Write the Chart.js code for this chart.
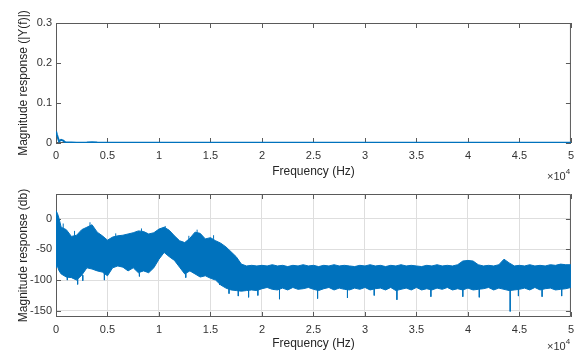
<!DOCTYPE html>
<html>
<head>
<meta charset="utf-8">
<script src="https://cdn.jsdelivr.net/npm/chart.js@4"></script>
<style>
html,body{margin:0;padding:0;background:#fff;}
#wrap{position:relative;width:580px;height:354px;overflow:hidden;}
canvas{position:absolute;left:0;top:0;}
.exp{position:absolute;font-family:'Liberation Sans',Arial,sans-serif;font-size:11px;color:#333;white-space:nowrap;}
.exp sup{font-size:8px;position:relative;top:-1px;}
</style>
</head>
<body>
<div id="wrap">
<canvas id="c1" width="580" height="354"></canvas>
<canvas id="c2" width="580" height="354"></canvas>
<div class="exp" style="left:547px;top:168px;">&times;10<sup>4</sup></div>
<div class="exp" style="left:547px;top:338px;">&times;10<sup>4</sup></div>
</div>
<script>
// ---- Tick values / labels ----
const xTickValues = [0,5000,10000,15000,20000,25000,30000,35000,40000,45000,50000];
const xTickLabels = ['0','0.5','1','1.5','2','2.5','3','3.5','4','4.5','5'];
const magTickValues = [0,0.1,0.2,0.3];
const magTickLabels = ['0','0.1','0.2','0.3'];
const dbTickValues = [-150,-100,-50,0];
const dbTickLabels = ['-150','-100','-50','0'];

// ---- Top plot: |Y(f)| ----
const magFreq = [0,100,200,300,500,700,900,1200,1500,2000,3000,3500,4000,5000,10000,20000,30000,40000,50000];
const magValue = [0.029,0.02,0.012,0.004,0.008,0.006,0.002,0.001,0.001,0.0008,0.001,0.002,0.001,0.0005,0.0005,0.0004,0.0004,0.0004,0.0004];

// ---- Bottom plot: dB envelope ----
const dbFreq = [0,150,300,500,1000,1500,2000,2500,3000,3500,4000,4500,5000,5500,6000,6500,7000,7500,8000,8500,9000,9500,
 10000,10500,11000,11500,12000,12500,13000,13500,14000,14500,15000,15500,16000,16500,17000,17500,18000,18500,19000,19500,
 20000,20500,21000,21500,22000,22500,23000,23500,24000,24500,25000,25500,26000,26500,27000,27500,28000,28500,29000,29500,
 30000,30500,31000,31500,32000,32500,33000,33500,34000,34500,35000,35500,36000,36500,37000,37500,38000,38500,39000,39500,
 40000,40500,41000,41500,42000,42500,43000,43500,44000,44500,45000,45500,46000,46500,47000,47500,48000,48500,49000,49500,50000];
const dbUpper = [13,8,0,-14,-18,-29,-27,-18,-14,-10,-22,-28,-35,-30,-28,-27,-25,-23,-20,-21,-25,-23,
 -17,-14,-19,-28,-36,-39,-32,-22,-24,-33,-31,-36,-40,-46,-54,-62,-74,-77,-76,-77,
 -76,-77,-75,-77,-76,-78,-76,-77,-75,-77,-76,-78,-76,-77,-75,-77,-76,-77,-78,-76,
 -77,-75,-77,-76,-78,-76,-77,-75,-77,-76,-77,-78,-76,-77,-75,-77,-76,-77,-75,-69,
 -68,-69,-75,-77,-76,-77,-75,-66,-72,-77,-76,-77,-75,-77,-76,-77,-75,-76,-74,-75,-75];
const dbLower = [-80,-78,-85,-90,-95,-96,-100,-92,-80,-82,-85,-87,-93,-80,-77,-79,-85,-80,-88,-85,-88,-80,
 -66,-55,-62,-68,-79,-90,-85,-90,-95,-93,-97,-100,-108,-113,-116,-117,-118,-117,-116,-117,
 -114,-112,-115,-116,-113,-116,-112,-115,-114,-112,-115,-117,-114,-112,-116,-113,-115,-116,-113,-115,
 -112,-116,-114,-113,-116,-112,-117,-115,-113,-116,-112,-116,-114,-116,-113,-115,-112,-116,-114,-116,
 -113,-116,-115,-114,-112,-116,-113,-115,-117,-116,-115,-113,-116,-112,-116,-114,-113,-116,-115,-114,-112];
// thin downward spikes below the dense band
const spikeFreq  = [1100,2100,2600,4700,8100,12600,15900,16800,17700,18700,19600,21700,25400,28300,30900,33100,36400,39500,41100,44100,44900,47200,49100];
const spikeDepth = [-100,-107,-101,-100,-94,-96,-108,-122,-126,-128,-125,-131,-130,-129,-125,-132,-127,-127,-128,-151,-126,-127,-126];
const spikeBase  = [-90,-95,-92,-87,-88,-88,-105,-114,-116,-116,-115,-113,-114,-113,-113,-114,-113,-114,-114,-116,-114,-114,-114];
// thin upward spikes above the band (left part)
const upFreq = [700,1800,3300,5800,8300,10600,12900,13700,15300];
const upTop  = [-8,-20,-6,-24,-16,-12,-28,-18,-27];
const upBase = [-17,-28,-12,-30,-21,-16,-34,-23,-33];

const BLUE = '#0072BD';
const FONT = "'Liberation Sans', Arial, Helvetica, sans-serif";

function pts(xs, ys){ return xs.map((x,i)=>({x:x, y:ys[i]})); }
function strokes(xs, a, b){
  const out = [];
  xs.forEach((f,i)=>{ out.push({x:f,y:a[i]},{x:f,y:b[i]},{x:f,y:null}); });
  return out;
}

const boxPlugin = {
  id:'box',
  beforeDatasetsDraw(chart){
    const {ctx, chartArea:a, scales} = chart;
    ctx.save();
    ctx.strokeStyle = '#5a5a5a';
    ctx.lineWidth = 1;
    ctx.beginPath();
    ctx.rect(a.left+0.5, a.top+0.5, a.right-a.left-1, a.bottom-a.top-1);
    const tl = 5;
    scales.x.ticks.forEach(t=>{
      const p = Math.round(scales.x.getPixelForValue(t.value))+0.5;
      ctx.moveTo(p, a.bottom); ctx.lineTo(p, a.bottom-tl);
      ctx.moveTo(p, a.top); ctx.lineTo(p, a.top+tl);
    });
    scales.y.ticks.forEach(t=>{
      const p = Math.round(scales.y.getPixelForValue(t.value))+0.5;
      ctx.moveTo(a.left, p); ctx.lineTo(a.left+tl, p);
      ctx.moveTo(a.right, p); ctx.lineTo(a.right-tl, p);
    });
    ctx.stroke();
    ctx.restore();
  }
};

function xScale(titlePadBottom, grid){
  return {
    type:'linear', min:0, max:50000,
    afterBuildTicks: s => { s.ticks = xTickValues.map(v=>({value:v})); },
    afterFit: s => { s.height = 37; },
    grid: grid ? {display:true, color:'#dedede', lineWidth:1, drawTicks:false} : {display:false, drawTicks:false},
    border:{display:false},
    ticks:{padding:6, color:'#333', font:{family:FONT, size:11}, maxRotation:0, autoSkip:false,
      callback:(v)=>{ const i = xTickValues.indexOf(v); return i>=0 ? xTickLabels[i] : ''; }},
    title:{display:true, text:'Frequency (Hz)', color:'#262626', font:{family:FONT, size:12}, padding:{top:0,bottom:titlePadBottom}}
  };
}
function yScale(min, max, vals, labels, title, grid){
  return {
    type:'linear', min:min, max:max,
    afterBuildTicks: s => { s.ticks = vals.map(v=>({value:v})); },
    afterFit: s => { s.width = 56; },
    grid: grid ? {display:true, color:'#dedede', lineWidth:1, drawTicks:false} : {display:false, drawTicks:false},
    border:{display:false},
    ticks:{padding:4, color:'#333', font:{family:FONT, size:11}, autoSkip:false,
      callback:(v)=>{ const i = vals.indexOf(v); return i>=0 ? labels[i] : ''; }},
    title:{display:true, text:title, color:'#262626', font:{family:FONT, size:12}, padding:{top:16,bottom:0}}
  };
}

const common = {
  responsive:false, animation:false, devicePixelRatio:1,
  plugins:{legend:{display:false}, tooltip:{enabled:false}},
  elements:{point:{radius:0}, line:{tension:0}},
  events:[]
};

new Chart(document.getElementById('c1'), {
  type:'line',
  data:{datasets:[{data:pts(magFreq, magValue), borderColor:BLUE, borderWidth:2, fill:false}]},
  options:Object.assign({}, common, {
    layout:{padding:{top:23, right:4, left:0, bottom:174}},
    scales:{
      x:xScale(1, false),
      y:yScale(0, 0.3, magTickValues, magTickLabels, 'Magnitude response (|Y(f)|)', false)
    }
  }),
  plugins:[boxPlugin]
});

new Chart(document.getElementById('c2'), {
  type:'line',
  data:{datasets:[
    {data:pts(dbFreq, dbLower), borderColor:BLUE, backgroundColor:BLUE, borderWidth:1, fill:false},
    {data:pts(dbFreq, dbUpper), borderColor:BLUE, backgroundColor:BLUE, borderWidth:1, fill:'-1'},
    {data:strokes(spikeFreq, spikeBase, spikeDepth), borderColor:BLUE, borderWidth:1, fill:false, spanGaps:false},
    {data:strokes(upFreq, upBase, upTop), borderColor:BLUE, borderWidth:1, fill:false, spanGaps:false}
  ]},
  options:Object.assign({}, common, {
    layout:{padding:{top:194, right:4, left:0, bottom:0}},
    scales:{
      x:xScale(3, true),
      y:yScale(-160, 40, dbTickValues, dbTickLabels, 'Magnitude response (db)', true)
    }
  }),
  plugins:[boxPlugin]
});
</script>
</body>
</html>
